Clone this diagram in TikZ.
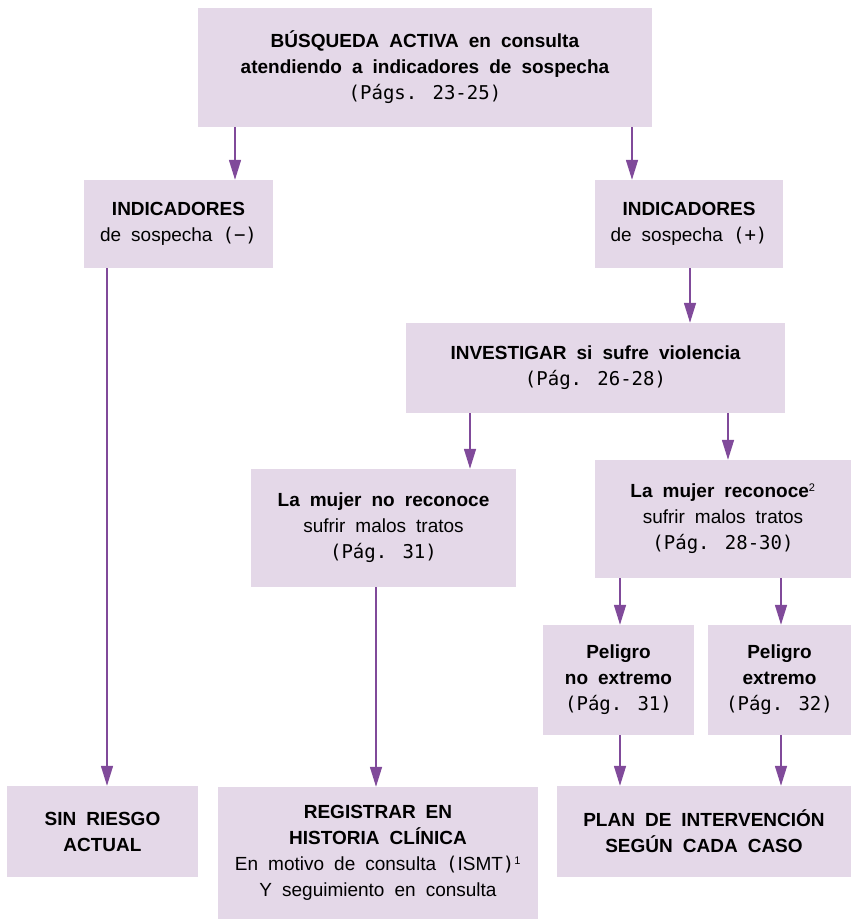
\documentclass[tikz,border=0pt]{standalone}
\usepackage{fontspec}
\setmainfont{Liberation Sans}[WordSpace=1.9]
\newfontfamily\pgfont{DejaVu Sans Mono}
\usetikzlibrary{arrows.meta}
\definecolor{lila}{RGB}{228,216,232}
\definecolor{morado}{RGB}{128,74,154}
\tikzset{>={Triangle[length=20pt,width=12pt]}}
\newcommand{\pg}[1]{{\pgfont\fontsize{19}{26}\selectfont #1}}

\begin{document}
\begin{tikzpicture}[x=1pt, y=-1pt,
  caja/.style={fill=lila, align=center, inner sep=0pt, font=\fontsize{19}{26}\selectfont},
  flecha/.style={morado, line width=1.5pt, ->}]

\useasboundingbox (0,0) rectangle (851,921);

% Busqueda activa
\node[caja, minimum width=454pt, minimum height=119pt] (busq) at (425,67.5)
  {\textbf{BÚSQUEDA ACTIVA en consulta}\\\textbf{atendiendo a indicadores de sospecha}\\\pg{(Págs. 23-25)}};

% Indicadores
\node[caja, minimum width=189pt, minimum height=88pt] (indneg) at (178.5,224)
  {\textbf{INDICADORES}\\de sospecha \pg{(−)}};
\node[caja, minimum width=188pt, minimum height=88pt] (indpos) at (689,224)
  {\textbf{INDICADORES}\\de sospecha \pg{(+)}};

% Investigar
\node[caja, minimum width=379pt, minimum height=90pt] (invest) at (595.5,368)
  {\textbf{INVESTIGAR si sufre violencia}\\\pg{(Pág. 26-28)}};

% Reconoce / no reconoce
\node[caja, minimum width=265pt, minimum height=118pt] (noreco) at (383.5,528)
  {\textbf{La mujer no reconoce}\\sufrir malos tratos\\\pg{(Pág. 31)}};
\node[caja, minimum width=256pt, minimum height=118pt] (reco) at (723,519)
  {\textbf{La mujer reconoce}\textsuperscript{\fontsize{11}{11}\selectfont 2}\\sufrir malos tratos\\\pg{(Pág. 28-30)}};

% Peligro
\node[caja, minimum width=151pt, minimum height=110pt] (pnoext) at (618.5,680)
  {\textbf{Peligro}\\\textbf{no extremo}\\\pg{(Pág. 31)}};
\node[caja, minimum width=143pt, minimum height=110pt] (pext) at (779.5,680)
  {\textbf{Peligro}\\\textbf{extremo}\\\pg{(Pág. 32)}};

% Resultados
\node[caja, minimum width=191pt, minimum height=91pt] (sinriesgo) at (102.5,831.5)
  {\textbf{SIN RIESGO}\\\textbf{ACTUAL}};
\node[caja, minimum width=320pt, minimum height=132pt] (registro) at (378,853)
  {\textbf{REGISTRAR EN}\\\textbf{HISTORIA CLÍNICA}\\En motivo de consulta \pg{(}ISMT\pg{)}\textsuperscript{\fontsize{11}{11}\selectfont 1}\\Y seguimiento en consulta};
\node[caja, minimum width=294pt, minimum height=91pt] (plan) at (704,831.5)
  {\textbf{PLAN DE INTERVENCIÓN}\\\textbf{SEGÚN CADA CASO}};

% Flechas
\draw[flecha] (busq.south -| 235,0) -- (indneg.north -| 235,0);
\draw[flecha] (busq.south -| 632,0) -- (indpos.north -| 632,0);
\draw[flecha] (indpos.south -| 690,0) -- (invest.north -| 690,0);
\draw[flecha] (invest.south -| 470,0) -- (noreco.north -| 470,0);
\draw[flecha] (invest.south -| 728,0) -- (reco.north -| 728,0);
\draw[flecha] (indneg.south -| 107,0) -- (sinriesgo.north -| 107,0);
\draw[flecha] (noreco.south -| 376,0) -- (registro.north -| 376,0);
\draw[flecha] (reco.south -| 620,0) -- (pnoext.north -| 620,0);
\draw[flecha] (reco.south -| 781,0) -- (pext.north -| 781,0);
\draw[flecha] (pnoext.south -| 620,0) -- (plan.north -| 620,0);
\draw[flecha] (pext.south -| 781,0) -- (plan.north -| 781,0);

\end{tikzpicture}
\end{document}
